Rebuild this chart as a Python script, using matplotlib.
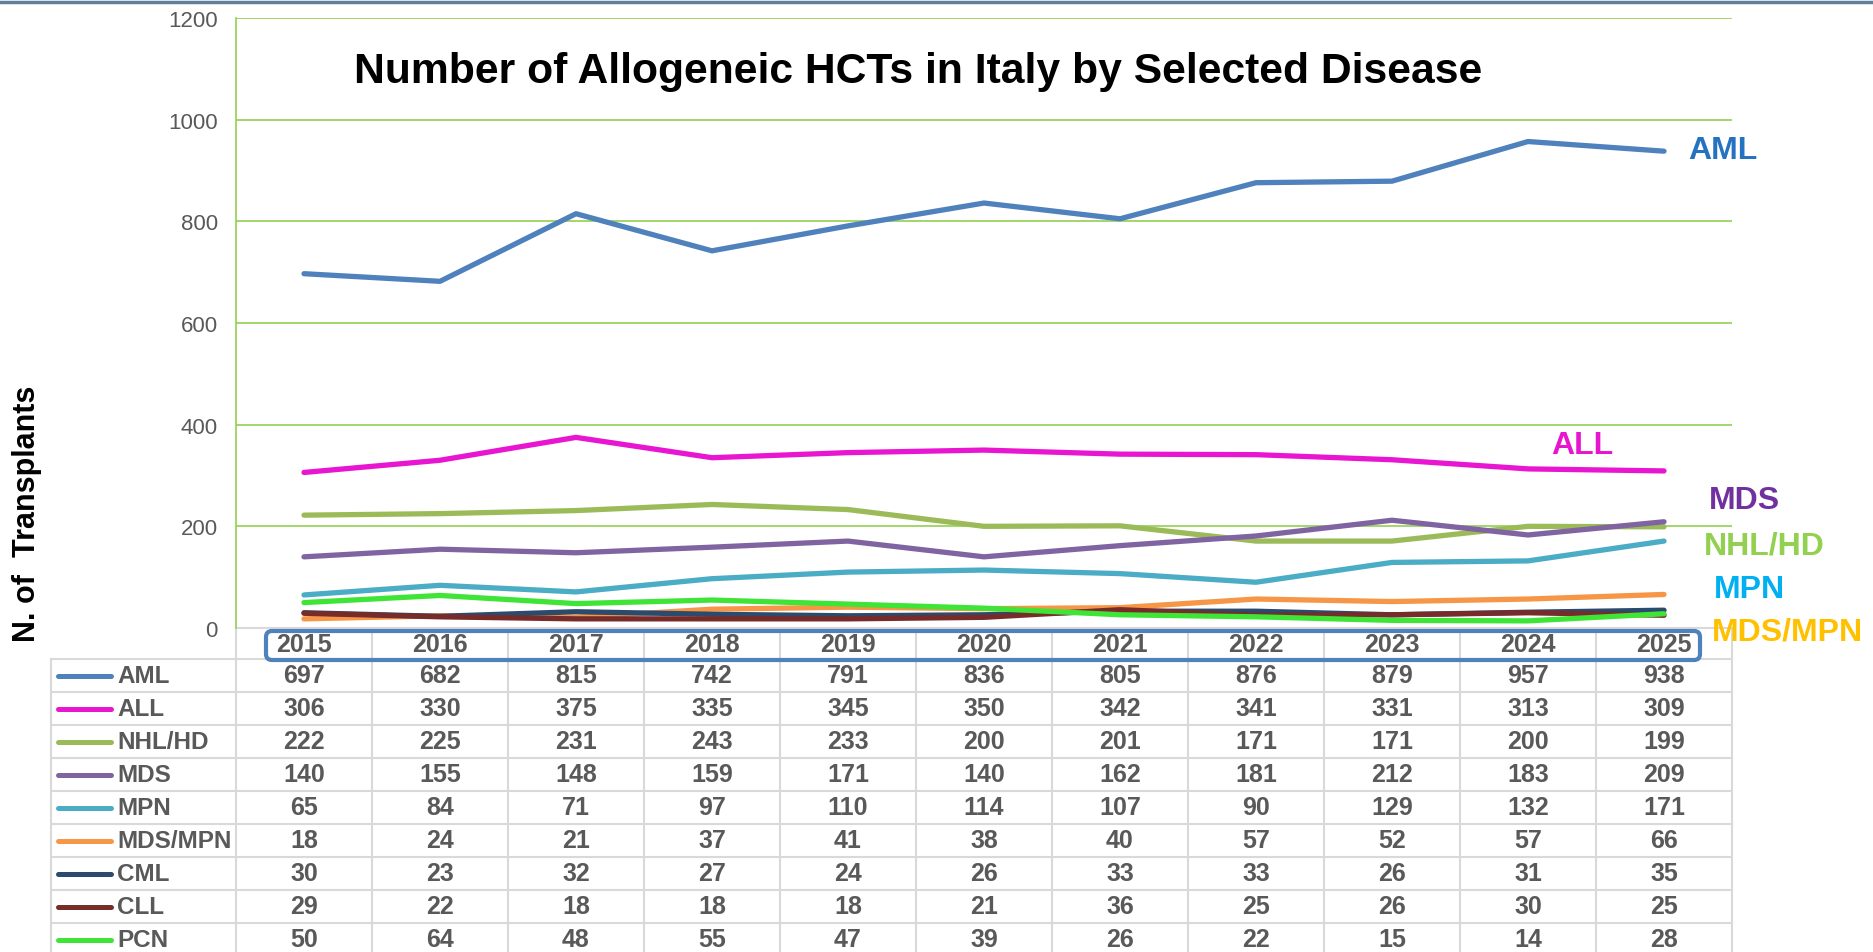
import numpy as np
import matplotlib
matplotlib.use("Agg")
import matplotlib.pyplot as plt
from matplotlib.patches import FancyBboxPatch

plt.rcParams['font.family'] = ['Liberation Sans', 'DejaVu Sans']

# ---------------------------------------------------------------------------
# data
# ---------------------------------------------------------------------------
years = [2015, 2016, 2017, 2018, 2019, 2020, 2021, 2022, 2023, 2024, 2025]
diseases = ['AML', 'ALL', 'NHL/HD', 'MDS', 'MPN', 'MDS/MPN', 'CML', 'CLL', 'PCN']
aml = [697, 682, 815, 742, 791, 836, 805, 876, 879, 957, 938]
all_ = [306, 330, 375, 335, 345, 350, 342, 341, 331, 313, 309]
nhl_hd = [222, 225, 231, 243, 233, 200, 201, 171, 171, 200, 199]
mds = [140, 155, 148, 159, 171, 140, 162, 181, 212, 183, 209]
mpn = [65, 84, 71, 97, 110, 114, 107, 90, 129, 132, 171]
mds_mpn = [18, 24, 21, 37, 41, 38, 40, 57, 52, 57, 66]
cml = [30, 23, 32, 27, 24, 26, 33, 33, 26, 31, 35]
cll = [29, 22, 18, 18, 18, 21, 36, 25, 26, 30, 25]
pcn = [50, 64, 48, 55, 47, 39, 26, 22, 15, 14, 28]
series = [aml, all_, nhl_hd, mds, mpn, mds_mpn, cml, cll, pcn]

line_colors = ['#4f81bd', '#e816d0', '#9bbb59', '#8064a2', '#4bacc6',
               '#f79646', '#2a4a6e', '#772c2a', '#3ee536']

# labels at the right end of the lines
end_labels = ['AML', 'ALL', 'MDS', 'NHL/HD', 'MPN', 'MDS/MPN']
end_label_colors = ['#2472c0', '#e815cf', '#7030a0', '#92d050', '#00b0f0', '#ffc000']
end_label_x = [10.18, 9.17, 10.33, 10.29, 10.37, 10.35]
end_label_y = [940, 360, 252, 163, 76, -6]

yticks = [0, 200, 400, 600, 800, 1000, 1200]

# ---------------------------------------------------------------------------
# layout (pixels of the 1874x953 picture)
# ---------------------------------------------------------------------------
W, H = 1874, 953
x_left, x_right = 236, 1732        # plot / year columns
y_top, y_zero = 19, 629            # 1200 and 0
tab_left = 51
row_h = 33
head_bottom = 660
col_w = (x_right - x_left) / len(years)
grey_txt = '#595959'
grid_grey = '#d9d9d9'

fig = plt.figure(figsize=(W / 100, H / 100), dpi=100)
fig.patch.set_facecolor('white')

ax = fig.add_axes([x_left / W, 1 - y_zero / H, (x_right - x_left) / W, (y_zero - y_top) / H])
ax.set_facecolor('none')
x = np.arange(len(years))
for vals, c in zip(series, line_colors):
    ax.plot(x, vals, color=c, lw=3.8, solid_capstyle='round', solid_joinstyle='round',
            clip_on=False, zorder=3)

ax.set_xlim(-0.5, len(years) - 0.5)
ax.set_ylim(0, 1200)
ax.set_yticks(yticks)
ax.set_yticklabels([str(v) for v in yticks], fontsize=16, color=grey_txt)
ax.tick_params(axis='y', length=0, pad=13)
ax.set_xticks([])
for v in yticks[1:]:
    ax.axhline(v, color='#92d050', lw=1.2, zorder=1)
for s in ['top', 'right', 'bottom']:
    ax.spines[s].set_visible(False)
ax.spines['left'].set_color('#92d050')
ax.spines['left'].set_linewidth(1.2)

fig.text(918 / W, 1 - 72 / H, 'Number of Allogeneic HCTs in Italy by Selected Disease',
         fontsize=30.7, fontweight='bold', color='black', ha='center', va='center')
fig.text(27 / W, 1 - 514 / H, 'N. of  Transplants', fontsize=22, fontweight='bold',
         color='black', rotation=90, ha='center', va='center')

for lab, c, lx, ly in zip(end_labels, end_label_colors, end_label_x, end_label_y):
    ax.text(lx, ly, lab, color=c, fontsize=23, fontweight='bold',
            ha='left', va='center', clip_on=False)

# ---------------------------------------------------------------------------
# data table under the chart (drawn on an overlay axes in pixel units)
# ---------------------------------------------------------------------------
tax = fig.add_axes([0, 0, 1, 1], zorder=-1)
tax.set_xlim(0, W)
tax.set_ylim(H, 0)
tax.axis('off')

n_rows = len(diseases)
row_tops = [head_bottom + i * row_h for i in range(n_rows + 1)]
tab_bottom = row_tops[-1]

# horizontal rules
tax.plot([x_left, x_right], [y_zero, y_zero], color=grid_grey, lw=1.5)
for yy in row_tops:
    tax.plot([tab_left, x_right], [yy, yy], color=grid_grey, lw=1.5)
# vertical rules
tax.plot([tab_left, tab_left], [head_bottom, tab_bottom], color=grid_grey, lw=1.5)
for i in range(len(years) + 1):
    xx = x_left + i * col_w
    tax.plot([xx, xx], [y_zero, tab_bottom], color=grid_grey, lw=1.5)

# header (years)
for i, yr in enumerate(years):
    tax.text(x_left + (i + 0.5) * col_w, (y_zero + head_bottom) / 2 + 1, str(yr),
             ha='center', va='center', fontsize=18, fontweight='bold', color=grey_txt)

box = FancyBboxPatch((268, 634), 1430, 25,
                     boxstyle='round,pad=2,rounding_size=6',
                     fc='none', ec='#4f81bd', lw=3, zorder=5)
tax.add_patch(box)

# rows
for r, (name, vals, c) in enumerate(zip(diseases, series, line_colors)):
    yc = row_tops[r] + row_h / 2
    tax.plot([58, 111], [yc, yc], color=c, lw=3.6, solid_capstyle='round')
    tax.text(117, yc, name, ha='left', va='center', fontsize=17.5,
             fontweight='bold', color=grey_txt)
    for i, v in enumerate(vals):
        tax.text(x_left + (i + 0.5) * col_w, yc, str(v), ha='center', va='center',
                 fontsize=18, fontweight='bold', color=grey_txt)

# thin rule across the very top
tax.plot([0, W], [2.5, 2.5], color='#607f99', lw=2.5)

fig.savefig('out.png', dpi=100)
